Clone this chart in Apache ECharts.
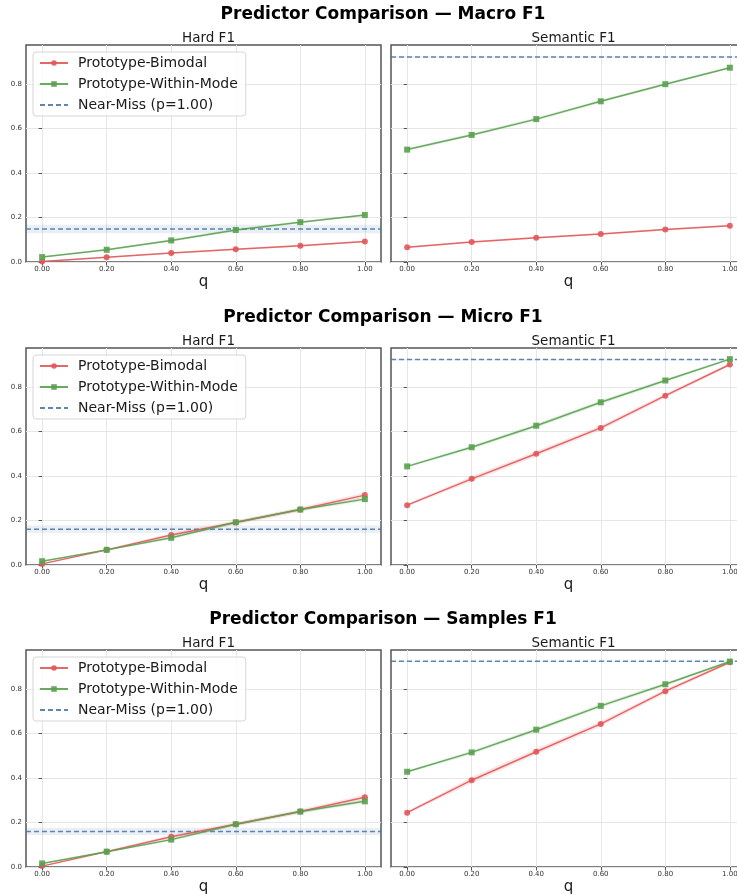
<!DOCTYPE html>
<html>
<head>
<meta charset="utf-8">
<script src="https://cdn.jsdelivr.net/npm/echarts@6/dist/echarts.min.js"></script>
<style>
  html, body { margin: 0; padding: 0; background: #fff; overflow: hidden; }
  #chart { width: 760px; height: 896px; }
</style>
</head>
<body>
<div id="chart"></div>
<script>
    // q values on the x axis
    const qValues = [0, 0.2, 0.4, 0.6, 0.8, 1.0];
    const xTicks = [0, 0.2, 0.4, 0.6, 0.8, 1.0];
    const yTicks = [0, 0.2, 0.4, 0.6, 0.8];
    const rowTitles = ['Predictor Comparison — Macro F1', 'Predictor Comparison — Micro F1', 'Predictor Comparison — Samples F1'];
    const panelTitles = ['Hard F1', 'Semantic F1'];
    const seriesNames = ['Prototype-Bimodal', 'Prototype-Within-Mode', 'Near-Miss (p=1.00)'];

    // Macro F1
    const macroHardBimodal = [0.002, 0.021, 0.040, 0.057, 0.073, 0.092];
    const macroHardWithin = [0.022, 0.055, 0.097, 0.144, 0.179, 0.211];
    const macroSemBimodal = [0.066, 0.090, 0.109, 0.126, 0.146, 0.163];
    const macroSemWithin = [0.505, 0.571, 0.642, 0.722, 0.799, 0.873];
    const macroNearMiss = [0.148, 0.921];      // hard, semantic
    const macroNearMissSd = [0.019, 0.003];

    // Micro F1
    const microHardBimodal = [0.005, 0.068, 0.135, 0.191, 0.249, 0.314];
    const microHardWithin = [0.017, 0.068, 0.122, 0.192, 0.249, 0.296];
    const microSemBimodal = [0.269, 0.387, 0.500, 0.616, 0.761, 0.901];
    const microSemWithin = [0.443, 0.529, 0.626, 0.731, 0.829, 0.925];
    const microNearMiss = [0.161, 0.923];
    const microNearMissSd = [0.016, 0.003];

    // Samples F1
    const samplesHardBimodal = [0.004, 0.069, 0.136, 0.192, 0.249, 0.313];
    const samplesHardWithin = [0.016, 0.069, 0.123, 0.192, 0.249, 0.295];
    const samplesSemBimodal = [0.244, 0.390, 0.518, 0.643, 0.790, 0.920];
    const samplesSemWithin = [0.428, 0.515, 0.617, 0.724, 0.821, 0.923];
    const samplesNearMiss = [0.160, 0.924];
    const samplesNearMissSd = [0.016, 0.003];

    // half widths of the shaded bands round the lines
    const macroHardBimodalSd = [0.002, 0.003, 0.003, 0.004, 0.004, 0.004];
    const macroHardWithinSd = [0.003, 0.004, 0.006, 0.006, 0.005, 0.004];
    const macroSemBimodalSd = [0.004, 0.004, 0.004, 0.004, 0.004, 0.004];
    const macroSemWithinSd = [0.006, 0.007, 0.007, 0.007, 0.006, 0.005];
    const microHardBimodalSd = [0.003, 0.005, 0.008, 0.010, 0.010, 0.012];
    const microHardWithinSd = [0.003, 0.004, 0.006, 0.007, 0.007, 0.008];
    const microSemBimodalSd = [0.006, 0.012, 0.012, 0.011, 0.010, 0.006];
    const microSemWithinSd = [0.006, 0.008, 0.009, 0.009, 0.008, 0.005];
    const samplesHardBimodalSd = [0.003, 0.005, 0.008, 0.010, 0.010, 0.012];
    const samplesHardWithinSd = [0.003, 0.004, 0.006, 0.007, 0.007, 0.008];
    const samplesSemBimodalSd = [0.006, 0.014, 0.013, 0.012, 0.010, 0.006];
    const samplesSemWithinSd = [0.006, 0.008, 0.009, 0.009, 0.008, 0.005];

    const RED = '#e15759';
    const GREEN = '#59a14f';
    const BLUE = '#4e79a7';
    const FONT = 'DejaVu Sans';

    const rowTop = [45, 348, 650];
    const colLeft = [26, 391];
    const panelW = 355;
    const panelH = 217;

    // per row: [hard, semantic] panels
    const panels = [
        [
            { bi: macroHardBimodal, biSd: macroHardBimodalSd, wm: macroHardWithin, wmSd: macroHardWithinSd, nm: macroNearMiss[0], nmSd: macroNearMissSd[0] },
            { bi: macroSemBimodal, biSd: macroSemBimodalSd, wm: macroSemWithin, wmSd: macroSemWithinSd, nm: macroNearMiss[1], nmSd: macroNearMissSd[1] }
        ],
        [
            { bi: microHardBimodal, biSd: microHardBimodalSd, wm: microHardWithin, wmSd: microHardWithinSd, nm: microNearMiss[0], nmSd: microNearMissSd[0] },
            { bi: microSemBimodal, biSd: microSemBimodalSd, wm: microSemWithin, wmSd: microSemWithinSd, nm: microNearMiss[1], nmSd: microNearMissSd[1] }
        ],
        [
            { bi: samplesHardBimodal, biSd: samplesHardBimodalSd, wm: samplesHardWithin, wmSd: samplesHardWithinSd, nm: samplesNearMiss[0], nmSd: samplesNearMissSd[0] },
            { bi: samplesSemBimodal, biSd: samplesSemBimodalSd, wm: samplesSemWithin, wmSd: samplesSemWithinSd, nm: samplesNearMiss[1], nmSd: samplesNearMissSd[1] }
        ]
    ];

    const grid = [], xAxis = [], yAxis = [], series = [], title = [], legend = [];

    function bandSeries(idx, mean, sd, color) {
        return {
            type: 'custom',
            xAxisIndex: idx,
            yAxisIndex: idx,
            silent: true,
            z: 1,
            data: qValues.map((q, i) => [q, mean[i] - sd[i], mean[i] + sd[i]]),
            renderItem: function(params, api) {
                if (params.dataIndex !== 0) return null;
                const upper = qValues.map((q, i) => api.coord([q, mean[i] + sd[i]]));
                const lower = qValues.map((q, i) => api.coord([q, mean[i] - sd[i]])).reverse();
                return {
                    type: 'polygon',
                    shape: { points: upper.concat(lower) },
                    style: { fill: color, opacity: 0.15 }
                };
            }
        };
    }

    rowTitles.forEach((t, r) => {
        title.push({
            text: t,
            left: 378,
            top: rowTop[r] - 44,
            textAlign: 'center',
            textStyle: { fontFamily: FONT, fontSize: 17, fontWeight: 'bold', color: '#000' }
        });
        legend.push({
            data: [
                seriesNames[0],
                seriesNames[1],
                { name: seriesNames[2], itemStyle: { color: 'rgba(0,0,0,0)', borderWidth: 0 } }
            ],
            orient: 'vertical',
            left: colLeft[0] + 7,
            top: rowTop[r] + 7,
            itemWidth: 28,
            itemHeight: 7,
            itemGap: 7,
            padding: [4, 8, 4, 6],
            backgroundColor: 'rgba(255,255,255,0.8)',
            borderColor: '#d6d6d6',
            borderWidth: 1,
            borderRadius: 3,
            selectedMode: false,
            textStyle: { fontFamily: FONT, fontSize: 14, color: '#1a1a1a', padding: [0, 0, 0, 5] }
        });
        for (let c = 0; c < 2; c++) {
            const idx = r * 2 + c;
            const p = panels[r][c];
            title.push({
                text: panelTitles[c],
                left: colLeft[c] + panelW / 2,
                top: rowTop[r] - 19,
                textAlign: 'center',
                textStyle: { fontFamily: FONT, fontSize: 13.5, fontWeight: 'normal', color: '#1a1a1a' }
            });
            grid.push({
                left: colLeft[c], top: rowTop[r], width: panelW, height: panelH,
                show: true, borderColor: '#555', borderWidth: 1.5, backgroundColor: '#fff'
            });
            xAxis.push({
                type: 'value', gridIndex: idx, min: -0.05, max: 1.05,
                name: 'q', nameLocation: 'middle', nameGap: 13,
                nameTextStyle: { fontFamily: FONT, fontSize: 15, color: '#1a1a1a' },
                axisLine: { show: false },
                axisTick: { show: true, length: 3.5, customValues: xTicks, lineStyle: { color: '#555', width: 1 } },
                axisLabel: { customValues: xTicks, fontFamily: FONT, fontSize: 7, color: '#333', margin: 4,
                    formatter: v => v.toFixed(2) },
                splitLine: { show: true, lineStyle: { color: '#e6e6e6', width: 1 } }
            });
            yAxis.push({
                type: 'value', gridIndex: idx, min: 0, max: 0.975,
                axisLine: { show: false },
                axisTick: { show: true, length: 3.5, customValues: yTicks, lineStyle: { color: '#555', width: 1 } },
                axisLabel: { show: c === 0, customValues: yTicks, fontFamily: FONT, fontSize: 7, color: '#333', margin: 4,
                    formatter: v => v.toFixed(1) },
                splitLine: { show: true, lineStyle: { color: '#e6e6e6', width: 1 } }
            });
            series.push(bandSeries(idx, p.bi, p.biSd, RED));
            series.push(bandSeries(idx, p.wm, p.wmSd, GREEN));
            series.push({
                name: seriesNames[2], type: 'line', xAxisIndex: idx, yAxisIndex: idx,
                data: [[-0.05, p.nm], [1.05, p.nm]],
                symbol: 'none', silent: true, z: 2,
                lineStyle: { color: BLUE, width: 1.5, type: [5, 3], opacity: 0.9 },
                itemStyle: { color: BLUE },
                markArea: {
                    silent: true,
                    itemStyle: { color: BLUE, opacity: 0.12 },
                    data: [[{ yAxis: p.nm - p.nmSd }, { yAxis: p.nm + p.nmSd }]]
                }
            });
            series.push({
                name: seriesNames[0], type: 'line', xAxisIndex: idx, yAxisIndex: idx,
                data: qValues.map((q, i) => [q, p.bi[i]]),
                symbol: 'circle', symbolSize: 6, z: 3,
                lineStyle: { color: RED, width: 1.5, opacity: 0.9 },
                itemStyle: { color: RED, opacity: 0.9 }
            });
            series.push({
                name: seriesNames[1], type: 'line', xAxisIndex: idx, yAxisIndex: idx,
                data: qValues.map((q, i) => [q, p.wm[i]]),
                symbol: 'rect', symbolSize: 6, z: 4,
                lineStyle: { color: GREEN, width: 1.5, opacity: 0.9 },
                itemStyle: { color: GREEN, opacity: 0.9 }
            });
        }
    });

    const chart = echarts.init(document.getElementById('chart'), null, { renderer: 'canvas' });
    chart.setOption({
        backgroundColor: '#ffffff',
        animation: false,
        title: title,
        legend: legend,
        grid: grid,
        xAxis: xAxis,
        yAxis: yAxis,
        series: series
    });
</script>
</body>
</html>
